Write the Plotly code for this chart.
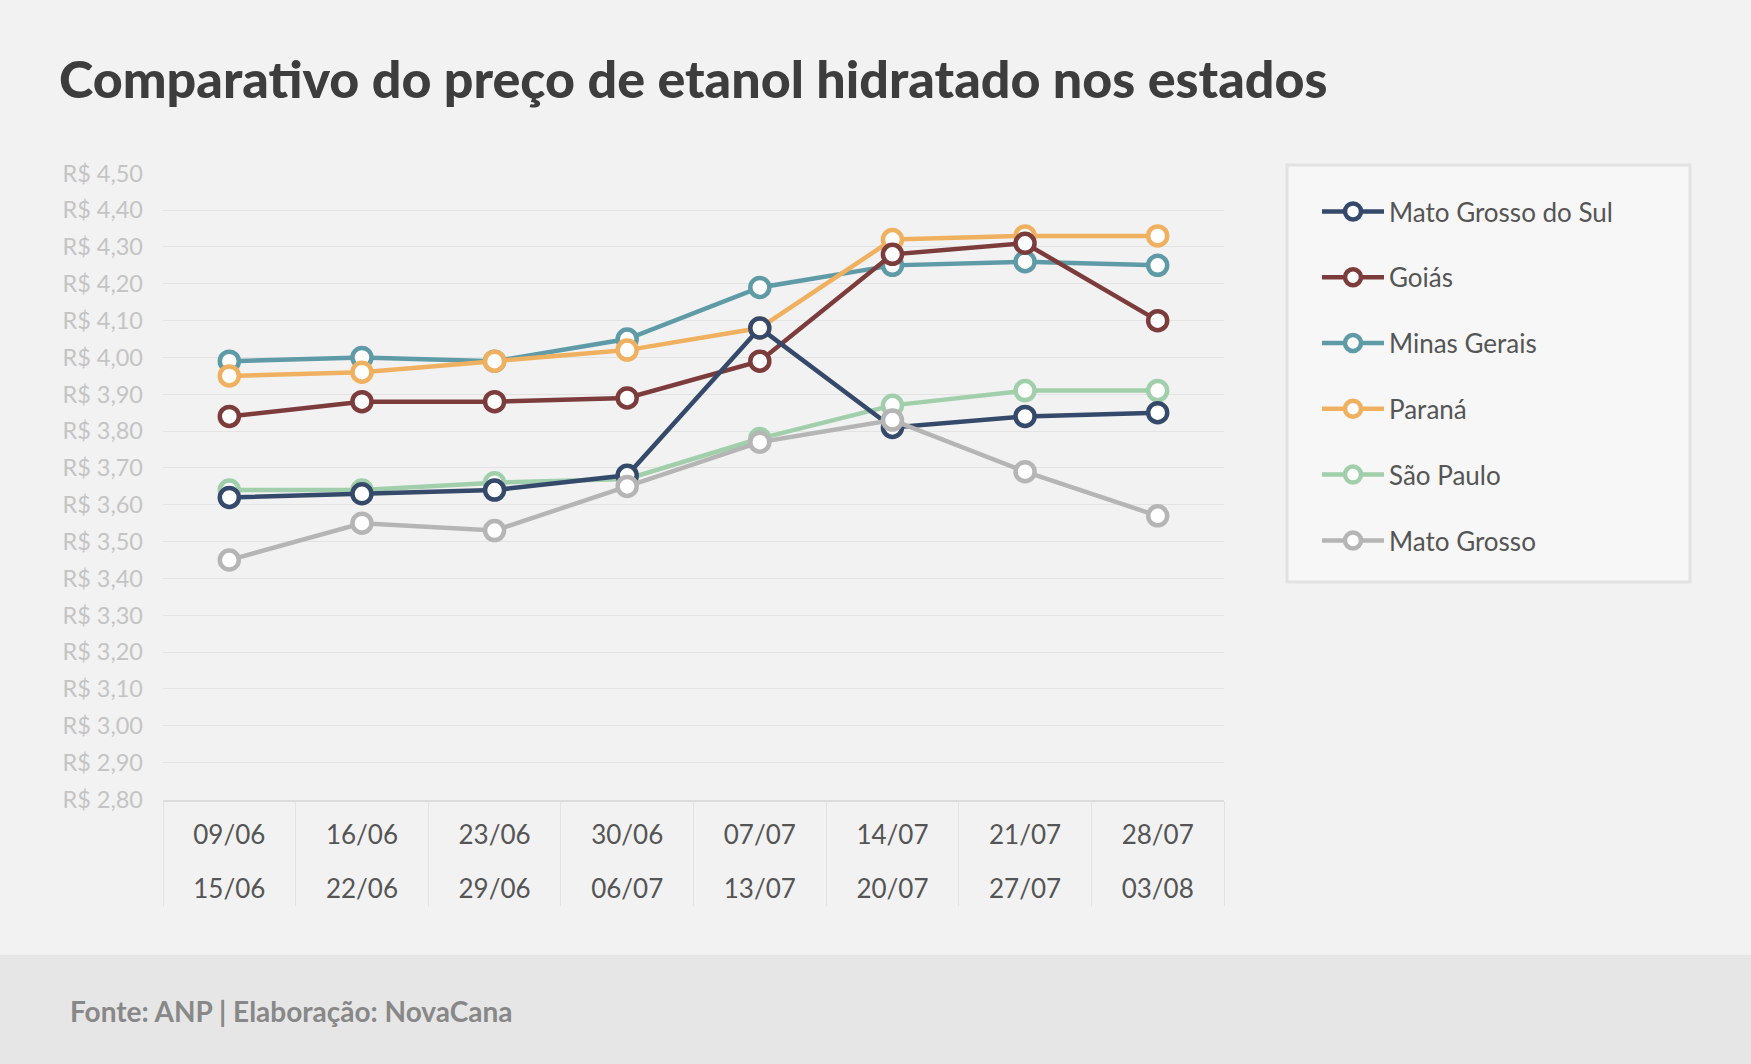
import plotly.graph_objects as go

# ---- data ----
week_start = ["09/06", "16/06", "23/06", "30/06", "07/07", "14/07", "21/07", "28/07"]
week_end = ["15/06", "22/06", "29/06", "06/07", "13/07", "20/07", "27/07", "03/08"]

mato_grosso_do_sul = [3.62, 3.63, 3.64, 3.68, 4.08, 3.81, 3.84, 3.85]
goias = [3.84, 3.88, 3.88, 3.89, 3.99, 4.28, 4.31, 4.10]
minas_gerais = [3.99, 4.00, 3.99, 4.05, 4.19, 4.25, 4.26, 4.25]
parana = [3.95, 3.96, 3.99, 4.02, 4.08, 4.32, 4.33, 4.33]
sao_paulo = [3.64, 3.64, 3.66, 3.67, 3.78, 3.87, 3.91, 3.91]
mato_grosso = [3.45, 3.55, 3.53, 3.65, 3.77, 3.83, 3.69, 3.57]

series_names = ["Mato Grosso do Sul", "Goiás", "Minas Gerais", "Paraná", "São Paulo", "Mato Grosso"]
series_values = [mato_grosso_do_sul, goias, minas_gerais, parana, sao_paulo, mato_grosso]
series_colors = ["#35496a", "#7d3c3c", "#5f9ba7", "#efb160", "#a1cfab", "#b5b5b5"]
draw_order = [2, 3, 4, 1, 0, 5]  # bottom to top

title_text = "Comparativo do preço de etanol hidratado nos estados"
source_text = "Fonte: ANP | Elaboração: NovaCana"

W, H = 1751, 1064
FONT = "Lato"

def px_x(p):
    return p / W

def px_y(p):
    return 1 - p / H

fig = go.Figure()
for i in draw_order:
    fig.add_trace(go.Scatter(
        x=week_start, y=series_values[i], name=series_names[i],
        mode="lines+markers",
        line=dict(color=series_colors[i], width=4.5),
        marker=dict(size=19, color="white", line=dict(color=series_colors[i], width=4.5)),
        legendrank=i + 1, legendgroup=series_names[i],
    ))

# empty helper traces so the secondary label / separator axes get drawn
for ax in ("x2", "x3"):
    fig.add_trace(go.Scatter(x=[], y=[], xaxis=ax, yaxis="y", showlegend=False, hoverinfo="skip"))

n = len(week_start)
xdom = [px_x(163), px_x(1224)]
ydom = [px_y(799.5), px_y(173.1)]
label_font = dict(size=26, color="#555555", family=FONT)

fig.update_layout(
    width=W, height=H,
    margin=dict(l=0, r=0, t=0, b=0, pad=0, autoexpand=False),
    paper_bgcolor="#f2f2f2", plot_bgcolor="#f2f2f2",
    font=dict(family=FONT, color="#555555"),
    separators=",.",
    showlegend=True,
    xaxis=dict(
        type="category", categoryarray=week_start, range=[-0.5, n - 0.5],
        domain=xdom, anchor="y", showgrid=False, zeroline=False, automargin=False,
        showline=True, linecolor="#dcdcdc", linewidth=1.5,
        ticks="", tickfont=label_font, ticklabelstandoff=12,
    ),
    xaxis2=dict(
        overlaying="x", anchor="y", side="bottom", type="linear", automargin=False,
        range=[-0.5, n - 0.5], tickmode="array", tickvals=list(range(n)), ticktext=week_end,
        showgrid=False, zeroline=False, showline=False, ticks="",
        tickfont=label_font, ticklabelstandoff=71,
    ),
    xaxis3=dict(
        overlaying="x", anchor="y", side="bottom", type="linear", automargin=False,
        range=[-0.5, n - 0.5], tickmode="array", tickvals=[k - 0.5 for k in range(n + 1)],
        showgrid=False, zeroline=False, showline=False, showticklabels=False,
        ticks="outside", ticklen=105, tickwidth=1, tickcolor="#e2e2e2",
    ),
    yaxis=dict(
        domain=ydom, range=[2.8, 4.5005], tick0=2.8, dtick=0.1, automargin=False,
        tickformat=".2f", tickprefix="R$ ",
        showgrid=True, gridcolor="#e3e3e3", gridwidth=1, zeroline=False, showline=False,
        ticks="", tickfont=dict(size=23.5, color="#c4c4c4", family=FONT), ticklabelstandoff=19,
    ),
    legend=dict(
        x=px_x(1317), y=px_y(188), xanchor="left", yanchor="top",
        bgcolor="rgba(0,0,0,0)", borderwidth=0,
        font=dict(size=26, color="#555555", family=FONT),
        traceorder="grouped", tracegroupgap=29, itemwidth=62,
    ),
    shapes=[
        dict(type="rect", xref="paper", yref="paper", x0=0, x1=1, y0=0, y1=px_y(955),
             fillcolor="#e6e6e6", line=dict(width=0), layer="below"),
        dict(type="rect", xref="paper", yref="paper", x0=px_x(1287), x1=px_x(1690),
             y0=px_y(582), y1=px_y(165),
             fillcolor="#f7f7f7", line=dict(color="#e2e2e2", width=3), layer="below"),
    ],
    annotations=[
        dict(text=title_text, xref="paper", yref="paper", x=px_x(57), y=px_y(78),
             xanchor="left", yanchor="middle", showarrow=False,
             font=dict(family=FONT, size=52, color="#3d3d3d", weight=900)),
        dict(text=source_text, xref="paper", yref="paper", x=px_x(68), y=px_y(1011),
             xanchor="left", yanchor="middle", showarrow=False,
             font=dict(family=FONT, size=28, color="#888888", weight="bold")),
    ],
)

fig.write_html("out.html")
